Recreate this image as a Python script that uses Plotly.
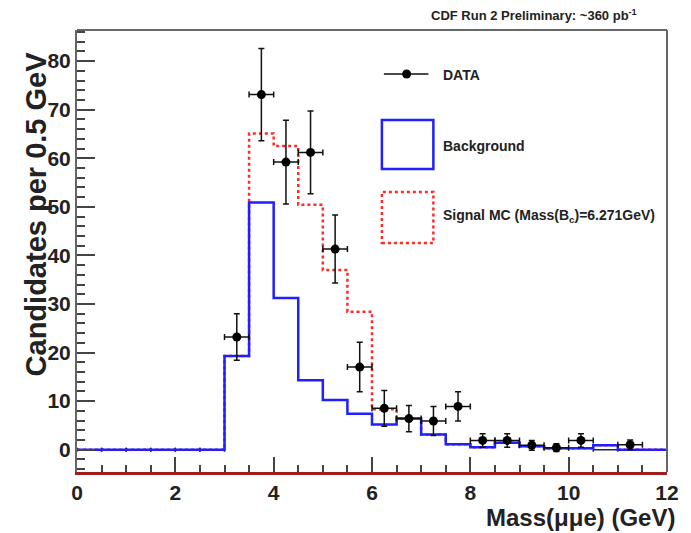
import plotly.graph_objects as go

# ---------------- data ----------------
bin_edges = [i * 0.5 for i in range(25)]  # 0 .. 12 GeV
background = [0, 0, 0, 0, 0, 0, 19.3, 50.9, 31.2, 14.3, 10.2, 7.4,
              5.2, 6.4, 3.1, 1.1, 0.5, 1.4, 0.7, 0.3, 0.3, 0.9, 0.0, 0.0]
signal_mc = [0, 0, 0, 0, 0, 0, 19.3, 65.1, 62.5, 50.4, 37.0, 28.4,
             8.3, 6.4, 3.1, 1.1, 0.5, 1.4, 0.7, 0.3, 0.3, 0.9, 0.0, 0.0]
data_x = [3.25, 3.75, 4.25, 4.75, 5.25, 5.75, 6.25, 6.75, 7.25, 7.75,
          8.25, 8.75, 9.25, 9.75, 10.25, 11.25]
data_y = [23.2, 73.1, 59.2, 61.2, 41.3, 17.0, 8.5, 6.4, 5.9, 8.9,
          1.9, 1.9, 0.9, 0.4, 1.9, 1.0]
data_err = [4.8, 9.5, 8.6, 8.5, 7.0, 5.1, 3.7, 2.7, 3.0, 3.0,
            1.4, 1.4, 1.0, 0.8, 1.4, 1.0]
zero_x = [0.25, 0.75, 1.25, 1.75, 2.25, 2.75, 10.75]
zero_y = [0, 0, 0, 0, 0, 0, 0]
y_ticks = [0, 10, 20, 30, 40, 50, 60, 70, 80]
x_ticks = [0, 2, 4, 6, 8, 10, 12]

W, H = 691, 533
L, R, T, B = 77, 18, 30, 61
PW, PH = W - L - R, H - T - B


def px(x):
    return (x - L) / PW


def py(y):
    return (H - B - y) / PH


FONT = "Liberation Sans, Arial, Helvetica, sans-serif"
BLUE = "#1f1fff"
RED = "#ff2a2a"

fig = go.Figure()

fig.add_trace(go.Scatter(
    x=bin_edges, y=signal_mc + [signal_mc[-1]], mode="lines",
    line=dict(color=RED, width=2.5, dash="dot", shape="hv"),
    hoverinfo="skip", showlegend=False))

fig.add_trace(go.Scatter(
    x=zero_x, y=zero_y, mode="markers",
    marker=dict(size=1, color="rgba(0,0,0,0)"),
    error_x=dict(type="constant", value=0.25, color="#202060",
                 thickness=1.5, width=2),
    showlegend=False))

fig.add_trace(go.Scatter(
    x=bin_edges, y=background + [background[-1]], mode="lines",
    line=dict(color=BLUE, width=2.5, shape="hv"),
    hoverinfo="skip", showlegend=False))

fig.add_trace(go.Scatter(
    x=data_x, y=data_y, mode="markers",
    marker=dict(size=9, color="black"),
    error_y=dict(type="data", array=data_err, color="#111",
                 thickness=1.5, width=3),
    error_x=dict(type="constant", value=0.25, color="#111",
                 thickness=1.5, width=3),
    showlegend=False))

shapes = [
    # top and right frame
    dict(type="line", xref="paper", yref="paper", x0=0, x1=1, y0=1, y1=1,
         line=dict(color="#666", width=2)),
    dict(type="line", xref="paper", yref="paper", x0=1, x1=1, y0=0, y1=1,
         line=dict(color="#666", width=2)),
    # legend: DATA
    dict(type="line", xref="paper", yref="paper", x0=px(387), x1=px(432),
         y0=py(74), y1=py(74), line=dict(color="#111", width=1.5)),
    dict(type="circle", xref="paper", yref="paper", x0=px(405.5), x1=px(414.5),
         y0=py(78.5), y1=py(69.5), fillcolor="black", line=dict(width=0)),
    # legend: background
    dict(type="rect", xref="paper", yref="paper", x0=px(385), x1=px(437),
         y0=py(169), y1=py(120), line=dict(color=BLUE, width=2.5)),
    # legend: signal
    dict(type="rect", xref="paper", yref="paper", x0=px(385), x1=px(437),
         y0=py(243), y1=py(192), line=dict(color=RED, width=2.5, dash="dot")),
]

LEG_FONT = dict(family=FONT, size=14, color="#222", weight="bold")
annotations = [
    dict(text="DATA", x=px(445), y=py(75), xref="paper", yref="paper",
         xanchor="left", yanchor="middle", showarrow=False, font=LEG_FONT),
    dict(text="Background", x=px(445), y=py(146), xref="paper", yref="paper",
         xanchor="left", yanchor="middle", showarrow=False, font=LEG_FONT),
    dict(text="Signal MC (Mass(B<sub>c</sub>)=6.271GeV)", x=px(445), y=py(216),
         xref="paper", yref="paper", xanchor="left", yanchor="middle",
         showarrow=False, font=LEG_FONT),
    dict(text="CDF Run 2 Preliminary: ~360 pb<sup>-1</sup>", x=px(645), y=py(15),
         xref="paper", yref="paper", xanchor="right", yanchor="middle",
         showarrow=False,
         font=dict(family=FONT, size=13, color="#222", weight="bold")),
    dict(text="Mass(\u03bc\u03bce) (GeV)", x=px(683), y=py(517),
         xref="paper", yref="paper", xanchor="right", yanchor="middle",
         showarrow=False,
         font=dict(family=FONT, size=24, color="#222", weight="bold")),
    dict(text="Candidates per 0.5 GeV", x=px(36), y=py(214),
         xref="paper", yref="paper", xanchor="center", yanchor="middle",
         textangle=-90, showarrow=False,
         font=dict(family=FONT, size=29, color="#222", weight="bold")),
]

fig.update_layout(
    width=W, height=H,
    margin=dict(l=L, r=R, t=T, b=B),
    paper_bgcolor="white", plot_bgcolor="white",
    shapes=shapes, annotations=annotations,
    showlegend=False,
    xaxis=dict(range=[0, 12], tickvals=x_ticks, ticks="inside", ticklen=15,
               tickwidth=1.5, tickcolor="#444",
               minor=dict(dtick=0.5, ticks="inside", ticklen=7, tickcolor="#444", tickwidth=1.5),
               showgrid=False, zeroline=False, showline=True,
               linecolor="#a01c1c", linewidth=3,
               tickfont=dict(family=FONT, size=21, color="#222", weight="bold")),
    yaxis=dict(range=[-4.6, 86.4], tickvals=y_ticks, ticks="inside", ticklen=18,
               tickwidth=1.5, tickcolor="#444",
               minor=dict(dtick=2, ticks="inside", ticklen=8, tickcolor="#444", tickwidth=1.5),
               showgrid=False, zeroline=False, showline=True,
               linecolor="#666", linewidth=2,
               tickfont=dict(family=FONT, size=21, color="#222", weight="bold")),
)

fig.write_html("out.html")
